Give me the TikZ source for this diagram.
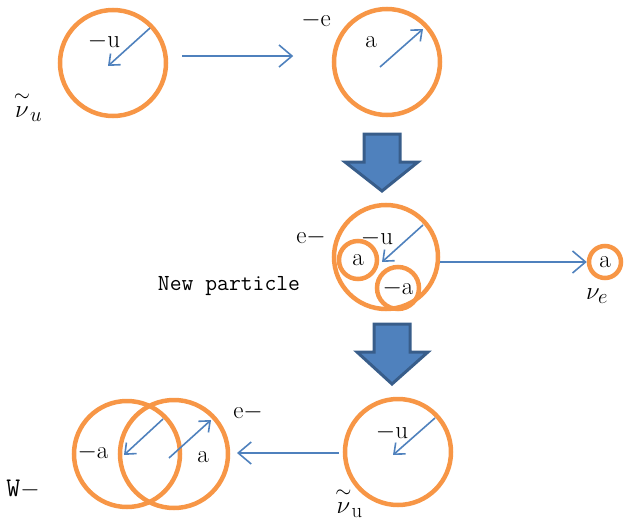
\documentclass[tikz,border=0pt]{standalone}
\usepackage{amsmath,amssymb}
\usepackage{xcolor}
\usepackage{tikz}
\usetikzlibrary{arrows.meta,positioning}

\definecolor{ringorange}{HTML}{F79646}
\definecolor{arrowblue}{HTML}{4F81BD}
\definecolor{blockedge}{HTML}{385D8A}

\begin{document}
\begin{tikzpicture}[x=1pt, y=-1pt]
    \tikzstyle{ring} = [draw=ringorange, line width=4.5pt, circle, inner sep=0pt]
    \tikzstyle{spin} = [-{Straight Barb[length=9pt, width=15pt]}, draw=arrowblue, line width=1.6pt]
    \tikzstyle{move} = [-{Straight Barb[length=13pt, width=22pt]}, draw=arrowblue, line width=1.6pt]
    \tikzstyle{lbl} = [inner sep=0pt, font=\fontsize{25}{28}\selectfont]
    \tikzstyle{biglbl} = [inner sep=0pt, font=\fontsize{28}{30}\selectfont]
    \tikzstyle{mono} = [inner sep=0pt, font=\ttfamily\fontsize{23}{26}\selectfont]
    \tikzstyle{blockarrow} = [fill=arrowblue, draw=blockedge, line width=3pt, line join=miter]

    \useasboundingbox (0,0) rectangle (625,525);

    % top row
    \node [ring, minimum size=106pt] (anti) at (113,63) {};
    \node [ring, minimum size=106pt] (elec) at (387,62) {};
    \node [lbl] (antiu) at (104,41) {$-$u};
    \node [biglbl] (antinu) at (28,106) {$\overset{\sim}{\nu}_u$};
    \node [lbl] (elecm) at (316,20) {$-$e};
    \node [lbl] (eleca) at (371,42) {a};
    \coordinate (s1) at (150,28);
    \coordinate (t1) at (108,66);
    \coordinate (s2) at (380,67);
    \coordinate (t2) at (423,29);
    \draw [spin] (s1) -- (t1);
    \draw [spin] (s2) -- (t2);
    \draw [move] (anti.east) ++(14,-7) coordinate (m1) (m1) -- ++(111,0) coordinate (m2);

    % first block arrow
    \draw [blockarrow] (364,134) -- (400,134) -- (400,162) -- (418,162) -- (382,191)
        -- (345,162) -- (364,162) -- cycle;

    % middle row
    \node [ring, minimum size=104pt] (newp) at (386,257) {};
    \node [ring, minimum size=38pt] (inna) at (358,260) {};
    \node [ring, minimum size=42pt] (innb) at (398,288) {};
    \node [ring, minimum size=32pt] (nue) at (605,262) {};
    \node [lbl] at (inna) {a};
    \node [lbl] at (innb) {$-$a};
    \node [lbl] at (nue) {a};
    \node [lbl] (newe) at (311,237) {e$-$};
    \node [lbl] (newu) at (377,238) {$-$u};
    \node [mono] (newlbl) at (229,286) {New particle};
    \node [biglbl] (nuelbl) at (597,296) {$\nu_e$};
    \coordinate (s3) at (423,225);
    \coordinate (t3) at (382,262);
    \draw [spin] (s3) -- (t3);
    \draw [move] (newp.east |- nue.west) -- (nue.west);

    % second block arrow
    \draw [blockarrow] (374,324) -- (410,324) -- (410,352) -- (428,352) -- (392,384)
        -- (357,352) -- (374,352) -- cycle;

    % bottom row
    \node [ring, minimum size=106pt] (wa) at (127,454) {};
    \node [ring, minimum size=108pt] (wb) at (174,454) {};
    \node [ring, minimum size=106pt] (anti2) at (398,452) {};
    \node [lbl] (wam) at (93,452) {$-$a};
    \node [lbl] (wba) at (203,457) {a};
    \node [lbl] (we) at (248,412) {e$-$};
    \node [mono, font=\ttfamily\fontsize{27}{28}\selectfont] (wlbl) at (23,489) {W$-$};
    \node [lbl] (anti2u) at (392,432) {$-$u};
    \node [biglbl] (anti2nu) at (349,502) {$\overset{\sim}{\nu}_{\mathrm{u}}$};
    \coordinate (s4) at (163,419);
    \coordinate (t4) at (124,455);
    \coordinate (s5) at (169,458);
    \coordinate (t5) at (211,420);
    \coordinate (s6) at (435,418);
    \coordinate (t6) at (393,455);
    \draw [spin] (s4) -- (t4);
    \draw [spin] (s5) -- (t5);
    \draw [spin] (s6) -- (t6);
    \draw [move] (anti2.west) ++(-4,1) coordinate (m3) (m3) -- (237,453) coordinate (m4);
\end{tikzpicture}
\end{document}
